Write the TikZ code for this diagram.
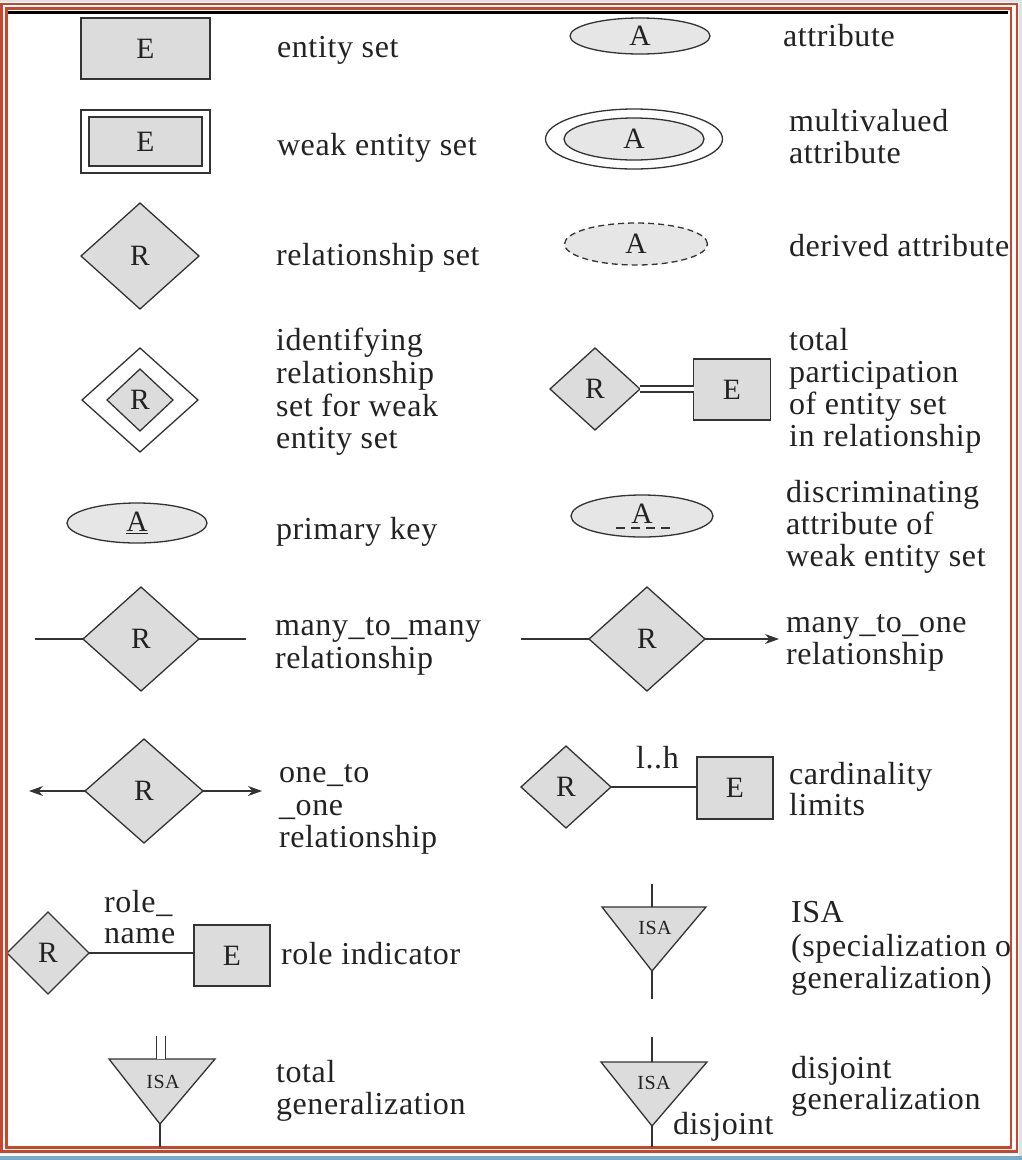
\documentclass[tikz,border=0pt]{standalone}
\usepackage{fontspec}
\setmainfont{Liberation Serif}[LetterSpace=2]
\usetikzlibrary{shapes.geometric,arrows.meta,calc}

\definecolor{ink}{HTML}{333333}
\definecolor{txt}{HTML}{222222}
\definecolor{boxgray}{HTML}{DCDCDC}
\definecolor{ellgray}{HTML}{E6E6E6}
\definecolor{framered}{HTML}{C8462C}
\definecolor{edgeblue}{HTML}{78AACB}
\definecolor{edgegray}{HTML}{DFE3E5}

\newcommand\erbody{\fontsize{32}{32.5}\selectfont}
\newcommand\ershape{\fontsize{29.5}{30}\selectfont}
\newcommand\erisa{\fontsize{20}{21}\selectfont}

\begin{document}
\begin{tikzpicture}[x=1pt,y=-1pt,
  every node/.style={inner sep=0pt,outer sep=0pt},
  ln/.style={draw=ink,line width=1.3pt},
  entbox/.style={rectangle,draw=ink,line width=1.4pt,fill=boxgray,font=\ershape,text=txt},
  relbox/.style={diamond,draw=ink,line width=1.3pt,fill=boxgray,font=\ershape,text=txt},
  attbox/.style={ellipse,draw=ink,line width=1.3pt,fill=ellgray,font=\ershape,text=txt},
  isabox/.style={draw=ink,line width=1.3pt,fill=boxgray},
  isatext/.style={font=\erisa,text=txt},
  lbl/.style={anchor=base west,font=\erbody,text=txt,yshift=-2pt},
  tip/.style={-{Stealth[length=14pt,width=10pt,inset=4.5pt]}},
]
\useasboundingbox (0,0) rectangle (1022,1160);

% page frame
\fill[white] (0,0) rectangle (1022,1160);
\fill[edgegray] (0,0) rectangle (1022,2);
\fill[edgegray] (1019,0) rectangle (1022,1160);
\draw[framered,line width=2.6pt] (1.5,4) rectangle (1017,1151.5);
\draw[framered,line width=2.2pt] (6.5,8.5) rectangle (1011,1147.5);
\draw[black,line width=3pt] (8,12.5) -- (1008,12.5);
\fill[edgeblue] (0,1156) rectangle (1022,1160);

\begin{scope}
\clip (8,14) rectangle (1009,1146);

% ---- left column ----
\node[entbox,minimum width=129pt,minimum height=61pt] (ent) at (145.5,48.5) {E};
\node[lbl] (tEnt) at (277,55) {entity set};

\node[rectangle,draw=ink,line width=1.4pt,fill=white,minimum width=129pt,minimum height=63pt] (weakO) at (145.5,141.5) {};
\node[entbox,minimum width=113pt,minimum height=49pt] (weakI) at (145.5,141.5) {E};
\node[lbl] (tWeak) at (277,153) {weak entity set};

\node[relbox,minimum width=118pt,minimum height=106pt] (rel) at (140,256) {R};
\node[lbl] (tRel) at (276,263) {relationship set};

\node[diamond,draw=ink,line width=1.3pt,fill=white,minimum width=116pt,minimum height=104pt] (idO) at (140,400) {};
\node[relbox,minimum width=66pt,minimum height=62pt] (idI) at (140,400) {R};
\node[lbl] (tId1) at (276,348) {identifying};
\node[lbl] (tId2) at (276,381) {relationship};
\node[lbl] (tId3) at (276,414) {set for weak};
\node[lbl] (tId4) at (276,446) {entity set};

\node[attbox,minimum width=140pt,minimum height=40pt] (pk) at (137,523) {\underline{A}};
\node[lbl] (tPk) at (276,537) {primary key};

\node[relbox,minimum width=116pt,minimum height=104pt] (mm) at (141,639) {R};
\coordinate (mmL) at (35,639);
\coordinate (mmR) at (246,639);
\draw[ln] (mmL) -- (mm.west);
\draw[ln] (mm.east) -- (mmR);
\node[lbl] (tMm1) at (275,633) {many\_to\_many};
\node[lbl] (tMm2) at (275,666) {relationship};

\node[relbox,minimum width=118pt,minimum height=104pt] (oo) at (144,791) {R};
\coordinate (ooL) at (29,791);
\coordinate (ooR) at (262,791);
\draw[ln,tip] (oo.west) -- (ooL);
\draw[ln,tip] (oo.east) -- (ooR);
\node[lbl] (tOo1) at (279,780) {one\_to};
\node[lbl] (tOo2) at (279,813) {\_one};
\node[lbl] (tOo3) at (279,845) {relationship};

\node[relbox,minimum width=82pt,minimum height=82pt] (roleR) at (48,953) {R};
\node[entbox,minimum width=76pt,minimum height=61pt] (roleE) at (232,955.5) {E};
\draw[ln] (roleR.east) -- (roleR.east -| roleE.west);
\node[lbl] (tRn1) at (104,910) {role\_};
\node[lbl] (tRn2) at (104,941) {name};
\node[lbl] (tRole) at (281,962) {role indicator};

\coordinate (tgL) at (109,1059);
\coordinate (tgR) at (215,1059);
\coordinate (tgB) at (160,1124);
\coordinate (tgM) at (161,1059);
\coordinate (tgTop) at (161,1036);
\coordinate (tgBot) at (160,1148);
\draw[isabox] (tgL) -- (tgR) -- (tgB) -- cycle;
\node[isatext] (tgT) at (163,1082) {ISA};
\draw[draw=ink,line width=1.3pt,double=white,double distance=7.5pt] (tgTop) -- (tgM);
\draw[ln] (tgB) -- (tgBot);
\node[lbl] (tTg1) at (276,1080) {total};
\node[lbl] (tTg2) at (276,1112) {generalization};

% ---- right column ----
\node[attbox,minimum width=140pt,minimum height=36pt] (att) at (640,36) {A};
\node[lbl] (tAtt) at (783,44) {attribute};

\node[ellipse,draw=ink,line width=1.3pt,fill=white,minimum width=177pt,minimum height=60pt] (mvO) at (634,139) {};
\node[attbox,minimum width=140pt,minimum height=42pt] (mvI) at (634,139) {A};
\node[lbl] (tMv1) at (789,129) {multivalued};
\node[lbl] (tMv2) at (789,161) {attribute};

\node[attbox,dash pattern=on 6pt off 4pt,minimum width=143pt,minimum height=42pt] (der) at (636,244) {A};
\node[lbl] (tDer) at (789,254) {derived attribute};

\node[relbox,minimum width=90pt,minimum height=82pt] (tpR) at (595,389) {R};
\node[entbox,minimum width=77pt,minimum height=61pt] (tpE) at (732,389.5) {E};
\draw[draw=ink,line width=1.3pt,double=white,double distance=4.5pt] (tpR.east) -- (tpR.east -| tpE.west);
\node[lbl] (tTp1) at (789,348) {total};
\node[lbl] (tTp2) at (789,380) {participation};
\node[lbl] (tTp3) at (789,412) {of entity set};
\node[lbl] (tTp4) at (789,444) {in relationship};

\node[attbox,minimum width=142pt,minimum height=42pt] (disc) at (642,516) {\raisebox{4pt}{A}};
\draw[draw=ink,line width=1.3pt,dash pattern=on 9pt off 6pt] ($(disc.center)+(-26,12)$) -- ($(disc.center)+(29,12)$);
\node[lbl] (tDi1) at (786,500) {discriminating};
\node[lbl] (tDi2) at (786,532) {attribute of};
\node[lbl] (tDi3) at (786,564) {weak entity set};

\node[relbox,minimum width=116pt,minimum height=104pt] (mo) at (647,639) {R};
\coordinate (moL) at (521,639);
\coordinate (moR) at (779,639);
\draw[ln] (moL) -- (mo.west);
\draw[ln,tip] (mo.east) -- (moR);
\node[lbl] (tMo1) at (786,630) {many\_to\_one};
\node[lbl] (tMo2) at (786,662) {relationship};

\node[relbox,minimum width=90pt,minimum height=82pt] (cdR) at (566,787) {R};
\node[entbox,minimum width=76pt,minimum height=62pt] (cdE) at (735,788) {E};
\draw[ln] (cdR.east) -- (cdR.east -| cdE.west);
\node[lbl] (tLh) at (636,766) {l..h};
\node[lbl] (tCd1) at (789,782) {cardinality};
\node[lbl] (tCd2) at (789,813) {limits};

\coordinate (isL) at (602,907);
\coordinate (isR) at (706,907);
\coordinate (isB) at (652,971);
\coordinate (isM) at (652,907);
\coordinate (isTop) at (652,884);
\coordinate (isBot) at (652,999);
\draw[isabox] (isL) -- (isR) -- (isB) -- cycle;
\node[isatext] (isT) at (655,928) {ISA};
\draw[ln] (isTop) -- (isM);
\draw[ln] (isB) -- (isBot);
\node[lbl] (tIs1) at (791,920) {ISA};
\node[lbl] (tIs2) at (791,954) {(specialization o};
\node[lbl] (tIs3) at (791,986) {generalization)};

\coordinate (djL) at (601,1062);
\coordinate (djR) at (707,1062);
\coordinate (djB) at (652,1126);
\coordinate (djM) at (652,1062);
\coordinate (djTop) at (652,1037);
\coordinate (djBot) at (652,1148);
\draw[isabox] (djL) -- (djR) -- (djB) -- cycle;
\node[isatext] (djT) at (654,1083) {ISA};
\draw[ln] (djTop) -- (djM);
\draw[ln] (djB) -- (djBot);
\node[lbl] (tDj) at (673,1132) {disjoint};
\node[lbl] (tDg1) at (791,1076) {disjoint};
\node[lbl] (tDg2) at (791,1107) {generalization};
\end{scope}
\end{tikzpicture}
\end{document}
